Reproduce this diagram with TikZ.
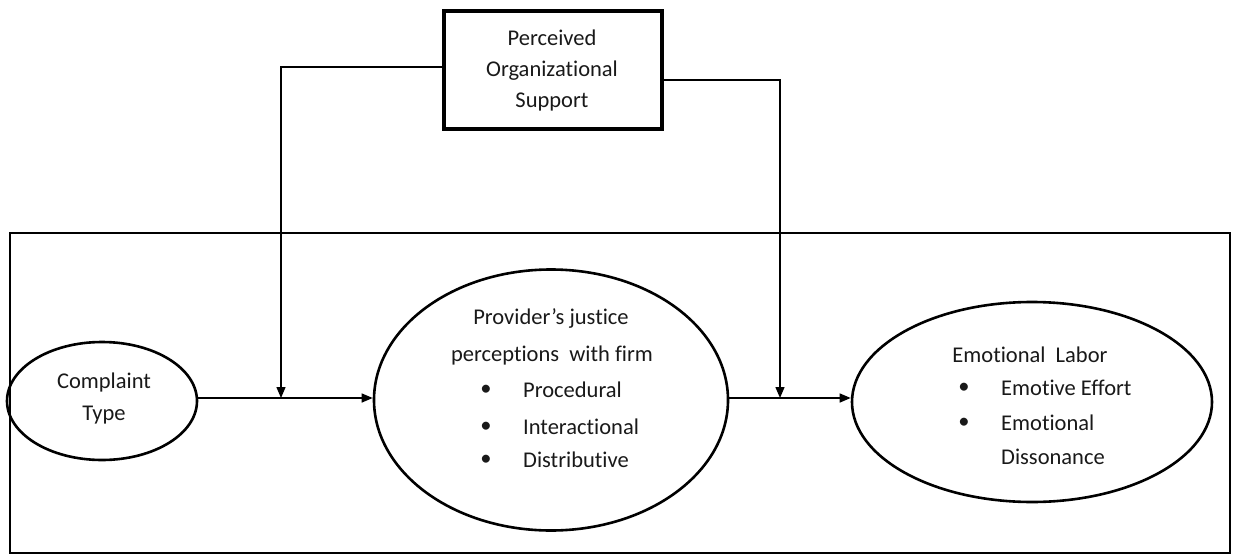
\documentclass[tikz,border=0pt]{standalone}
\usepackage{fontspec}
\setmainfont{Carlito}[Ligatures=NoCommon]
\usetikzlibrary{arrows.meta,shapes.geometric}
\begin{document}
\begin{tikzpicture}[x=1pt,y=-1pt,
  txt/.style={inner sep=0pt,font=\fontsize{22.5}{26}\selectfont,text=black!90},
  oval/.style={ellipse,draw,line width=2.6pt,inner sep=0pt},
  conn/.style={line width=1.4pt},
  arr/.style={conn,-{Triangle[length=11pt,width=9pt]}}]
\useasboundingbox (0,0) rectangle (1235,557);
% outer frame
\draw[line width=1.4pt] (10,233) rectangle (1230,553);
% POS box
\node[draw,line width=4pt,minimum width=218pt,minimum height=118pt,inner sep=0pt] (pos) at (553,70) {};
\node[txt] (pos1) at (552,38) {Perceived};
\node[txt] (pos2) at (552,71) {Organizational};
\node[txt] (pos3) at (552,102) {Support};
% ellipses
\node[oval,minimum width=190pt,minimum height=118pt] (ct) at (102,401) {};
\node[txt] (ct1) at (104,382) {Complaint};
\node[txt] (ct2) at (104,415) {Type};
\node[oval,minimum width=354pt,minimum height=261pt] (pj) at (551,400) {};
\node[txt] (pj1) at (551,318) {Provider’s justice};
\node[txt] (pj2) at (552,355) {perceptions\ \ with firm};
\node[txt] (pjb1) at (486,390) {•};
\node[txt,anchor=west] (pj3) at (523,390) {Procedural};
\node[txt] (pjb2) at (486,427) {•};
\node[txt,anchor=west] (pj4) at (523,427) {Interactional};
\node[txt] (pjb3) at (486,460) {•};
\node[txt,anchor=west] (pj5) at (523,460) {Distributive};
\node[oval,minimum width=360pt,minimum height=200pt] (el) at (1032,402) {};
\node[txt] (el1) at (1030,355) {Emotional\ \ Labor};
\node[txt] (elb1) at (964,388) {•};
\node[txt,anchor=west] (el2) at (1001,388) {Emotive Effort};
\node[txt] (elb2) at (964,423) {•};
\node[txt,anchor=west] (el3) at (1001,423) {Emotional};
\node[txt,anchor=west] (el4) at (1001,457) {Dissonance};
% connectors
\coordinate (m1) at (281,398);
\coordinate (m2) at (780,398);
\draw[arr] (ct.east |- m1) -- (pj.west |- m1);
\draw[arr] (pj.east |- m2) -- (el.west |- m2);
\draw[arr] (pos.west |- 0,67) -| (m1);
\draw[arr] (pos.east |- 0,80) -| (m2);
\end{tikzpicture}
\end{document}
